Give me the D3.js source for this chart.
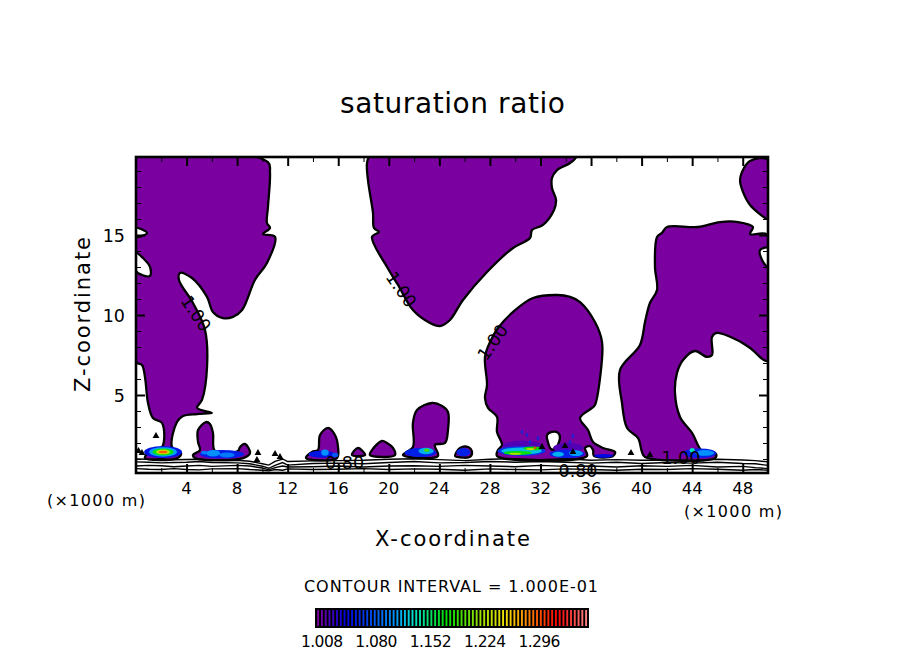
<![CDATA[<!DOCTYPE html>
<html><head><meta charset="utf-8">
<style>html,body{margin:0;padding:0;background:#fff;overflow:hidden}svg{display:block}text{font-family:"DejaVu Sans",sans-serif;fill:#000}</style>
<script src="https://cdn.jsdelivr.net/npm/d3@7/dist/d3.min.js"></script>
</head><body><script>
// ---- data, in km ----
const xMajor = [4,8,12,16,20,24,28,32,36,40,44,48];
const xMinor = [2,6,10,14,18,22,26,30,34,38,42,46];
const zMajor = [5,10,15];
const zMinor = [1,2,3,4,6,7,8,9,11,12,13,14,16,17,18,19];
const levelLabels = [1.008,1.080,1.152,1.224,1.296];
const colorLevels = d3.range(0,72).map(i => 1 + i*0.005);
const colorStops = [1.0,1.036,1.1,1.126,1.17,1.216,1.248,1.28,1.317,1.36];
const colorValues = ["#7b00a0","#0000e0","#0090ff","#00e0d0","#00e000","#a0e000","#f0e000","#ff8000","#ff0000","#ff9090"];

const regionLeft = [[0,19.9],[10.44,19.55],[10.6,18.9],[10.44,16.75],[10.36,15.75],[10.6,15.44],[10.05,15.06],[11,14.88],[10.36,13.25],[9.41,12.19],[8.39,10.31],[7.67,9.88],[6.88,9.81],[6.09,10.19],[5.62,11.13],[4.43,12.31],[3.48,12.63],[3.4,12.19],[4.51,10.75],[5.46,9.06],[5.62,6.75],[5.22,4.69],[4.83,4.19],[6.01,3.88],[4.83,3.81],[3.72,3.69],[3.24,3.31],[2.85,1.75],[3.56,1.38],[3.3,1.06],[0.71,1.06],[1.1,1.5],[2.06,1.75],[2.06,3.25],[1.34,3.56],[0.95,4.5],[0.71,6.13],[0.47,6.88],[0,7.06]];
const regionHump = [[5.54,3.31],[4.91,2.81],[4.91,2.06],[5.06,1.56],[4.51,1.25],[4.67,1.06],[8.47,1.06],[9.02,1.38],[8.62,1.94],[8.23,1.75],[8.07,1.5],[6.25,1.5],[6.09,2.63],[5.85,3.19]];
const regionFifteen = [[15.19,2.94],[14.56,2.5],[14.4,1.56],[13.92,1.44],[13.45,1.06],[15.9,1.06],[15.98,1.75],[15.74,2.5]];
const regionSmall = [[17.56,1.69],[17.09,1.25],[18.12,1.25]];
const regionTwenty = [[19.46,2.13],[18.67,1.56],[18.51,1.25],[20.49,1.25],[20.33,1.69],[19.86,2.0]];
const regionTwentyThree = [[23.42,4.5],[22.23,4.06],[21.91,3.25],[21.91,1.75],[21.12,1.25],[23.89,1.19],[23.65,1.88],[24.45,2.0],[24.68,2.81],[24.68,3.94],[24.21,4.31]];
const regionTwentySix = [[25.24,1.19],[25.63,1.69],[26.27,1.75],[26.58,1.44],[26.42,1.13],[25.4,1.13]];
const regionTop = [[18.51,19.9],[18.28,19.5],[18.35,18.44],[18.75,16.38],[18.83,15.44],[19.22,15.19],[18.67,14.88],[19.86,13],[20.73,11.88],[21.91,10.31],[23.26,9.5],[24.05,9.31],[24.84,9.69],[25.87,10.94],[27.77,12.69],[29.83,14.19],[31.17,14.81],[31.33,15.31],[32.2,15.63],[33.07,16.56],[33.23,17.19],[32.91,17.94],[32.91,18.56],[33.31,19.06],[34.34,19.5],[34.81,19.9]];
const regionDome = [[33.31,11.25],[31.41,11.06],[29.83,10.19],[28.64,9.19],[28.01,8.31],[27.61,7.38],[27.77,5.63],[27.61,4.81],[27.85,4.19],[28.56,3.63],[28.56,2.69],[28.96,1.88],[28.64,1.56],[28.56,1.19],[35.68,1.19],[35.52,1.69],[35.92,1.81],[36.16,1.56],[36.23,1.19],[37.74,1.19],[37.9,1.44],[36.95,1.69],[36.16,2.06],[35.76,2.81],[35.13,3.56],[36.08,4.19],[36.31,4.38],[36.71,6.06],[36.87,8.31],[36.31,9.56],[35.13,10.81],[34.34,11.13]];
const regionRight = [[50,15],[48.58,15.06],[48.81,15.5],[47.63,15.81],[46.2,15.81],[44.46,15.5],[42.01,15.5],[41.61,15.13],[41.22,14.88],[41.06,13],[41.22,11.56],[40.66,10.75],[40.27,9.56],[39.87,8.13],[38.29,6.56],[38.45,4.5],[38.85,2.94],[39.72,2.31],[40.03,1.44],[40.27,1.13],[45.81,1.06],[45.89,1.31],[45.41,1.5],[44.78,1.5],[43.99,2.63],[43.04,3.63],[42.64,5.13],[42.8,6.38],[43.28,7.19],[44.22,7.75],[45.17,7.38],[45.57,7.5],[45.57,8.63],[45.96,8.88],[47.55,8.44],[48.58,7.94],[50,7.13]];
const regionCorner = [[50,19.7],[48.58,19.63],[48.1,19.19],[47.79,18.44],[48.02,17.69],[48.58,16.88],[49.92,16],[50,16]];
const regions = [regionLeft,regionHump,regionFifteen,regionSmall,regionTwenty,regionTwentyThree,regionTwentySix,regionTop,regionDome,regionRight,regionCorner];

const holeLeftA = [[0,15.44],[0.87,15.13],[0,14.88]];
const holeLeftB = [[0,13.88],[0.55,13.56],[1.11,13],[1.11,12.44],[0.47,12.5],[0,12.75]];
const holeDome = [[32.91,2.69],[33.39,2.63],[33.54,2.31],[33.15,1.63],[32.83,1.63],[32.59,2.06],[32.52,2.5]];
const holeRight = [[50,14.19],[49.37,14.06],[49.53,13.44],[50,13]];
const holes = [holeLeftA,holeLeftB,holeDome,holeRight];

// [x, z, half width, half height, value]
const hotspots = [
 [30.6,1.8,1.6,0.35,1.012],[34.2,1.7,1.2,0.3,1.012],
 [2.14,1.44,1.5,0.38,1.045],[2.14,1.44,1.1,0.30,1.105],[2.14,1.44,0.85,0.22,1.165],[2.14,1.44,0.55,0.15,1.23],[2.14,1.44,0.35,0.08,1.29],
 [6.8,1.3,1.75,0.26,1.05],[6.1,1.36,0.55,0.2,1.1],[7.2,1.25,0.6,0.15,1.09],[5.4,1.4,0.25,0.12,1.09],
 [14.7,1.3,1.05,0.22,1.045],[14.95,1.4,0.3,0.2,1.1],[15.75,1.25,0.25,0.14,1.075],
 [22.5,1.4,1.25,0.28,1.05],[22.95,1.5,0.6,0.2,1.11],[23.0,1.55,0.22,0.1,1.19],
 [25.9,1.42,0.55,0.25,1.05],
 [30.5,1.5,1.9,0.3,1.06],[30.5,1.5,1.6,0.22,1.115],[30.2,1.38,1.1,0.12,1.17],[31.4,1.66,0.75,0.12,1.17],[30.0,1.33,0.5,0.06,1.225],[31.2,1.62,0.35,0.07,1.225],[31.57,1.7,0.12,0.07,1.3],
 [34.1,1.32,1.4,0.26,1.05],[33.4,1.3,0.45,0.16,1.11],[34.8,1.36,0.55,0.18,1.105],
 [37,1.2,0.75,0.12,1.04],
 [44.6,1.36,1.3,0.3,1.05],[45,1.38,0.75,0.18,1.1],[44,1.55,0.2,0.14,1.13]
];
const speckBlue = [[30.54,2.69],[30.93,2.5],[31.17,2.06],[34.34,2.06],[34.57,2.44],[31.8,2.3]];
const speckBlack = [[1.58,2.44],[0.47,1.38],[9.65,1.38],[11,1.31],[11.39,1.13],[9.57,0.94],[32.12,1.75],[33.94,1.81],[34.57,1.44],[39.16,1.38],[40.66,1.25],[0.2,1.5]];

const lowX = [0,1,2,3,4,5,6,8,9,10,10.5,11,11.6,12,14,16,18,20,22,24,26,28,30,32,34,36,38,40,42,44,46,48,49,50];
const lowLine1 = [1.00,0.98,1.02,0.95,0.97,0.98,0.90,0.92,0.86,0.70,0.62,0.85,1.00,0.84,0.88,0.90,0.92,0.98,1.02,0.96,0.90,0.98,1.02,0.96,1.02,0.92,0.96,0.92,0.94,0.92,0.98,0.94,0.90,0.82];
const lowLine2 = [0.82,0.80,0.76,0.78,0.80,0.84,0.78,0.76,0.70,0.55,0.42,0.60,0.78,0.62,0.72,0.74,0.70,0.78,0.84,0.76,0.78,0.84,0.80,0.84,0.80,0.74,0.80,0.72,0.78,0.74,0.80,0.72,0.70,0.60];
const lowLine3 = [0.56,0.60,0.58,0.52,0.56,0.60,0.54,0.60,0.56,0.44,0.32,0.46,0.56,0.50,0.52,0.56,0.50,0.56,0.58,0.54,0.60,0.56,0.52,0.60,0.54,0.56,0.50,0.58,0.54,0.60,0.50,0.54,0.46,0.40];
const lowLine4 = [0.40,0.36,0.34,0.40,0.34,0.32,0.38,0.40,0.34,0.30,0.26,0.34,0.30,0.38,0.34,0.36,0.40,0.34,0.38,0.36,0.30,0.38,0.34,0.32,0.38,0.34,0.30,0.36,0.34,0.40,0.36,0.30,0.34,0.30];
const lowLines = [lowLine1,lowLine2,lowLine3,lowLine4];

const contourLabels = [
 ["1.00",4.75,10.1,56],["1.00",21.0,11.6,55],["1.00",28.2,8.3,-55],
 ["0.80",16.5,0.78,0],["0.80",34.97,0.25,0],["1.00",43.1,1.06,0]
];

// ---- drawing ----
const W=904,H=654, L=136,R=768,T=157,B=473;
const svg=d3.select("body").append("svg").attr("width",W).attr("height",H);
const x=d3.scaleLinear().domain([0,50]).range([L,R]);
const y=d3.scaleLinear().domain([0.125,19.875]).range([B,T]);
const color=d3.scaleLinear().domain(colorStops).range(colorValues);
const path=d3.line().x(d=>x(d[0])).y(d=>y(d[1])).curve(d3.curveCatmullRomClosed.alpha(0.5));
const open=d3.line().x((d,i)=>x(lowX[i])).y(d=>y(d));

svg.append("defs").append("clipPath").attr("id","plot").append("rect")
  .attr("x",L).attr("y",T).attr("width",R-L).attr("height",B-T);
const g=svg.append("g").attr("clip-path","url(#plot)");

g.selectAll(".region").data(regions).join("path").attr("class","region")
  .attr("d",path).attr("fill",color(1)).attr("stroke","#000").attr("stroke-width",2.3).attr("stroke-linejoin","round");
g.selectAll(".hole").data(holes).join("path").attr("class","hole")
  .attr("d",path).attr("fill","#fff").attr("stroke","#000").attr("stroke-width",2.3);
g.selectAll(".hot").data(hotspots).join("ellipse").attr("class","hot")
  .attr("cx",d=>x(d[0])).attr("cy",d=>y(d[1]))
  .attr("rx",d=>x(d[2])-x(0)).attr("ry",d=>y(0)-y(d[3]))
  .attr("fill",d=>color(d[4]));
g.selectAll(".sb").data(speckBlue).join("path").attr("class","sb")
  .attr("d",d3.symbol(d3.symbolDiamond,9)).attr("transform",d=>`translate(${x(d[0])},${y(d[1])})`).attr("fill","#2020d0");
g.selectAll(".sk").data(speckBlack).join("path").attr("class","sk")
  .attr("d",d3.symbol(d3.symbolTriangle,20)).attr("transform",d=>`translate(${x(d[0])},${y(d[1])})`).attr("fill","#000");
g.selectAll(".low").data(lowLines).join("path").attr("class","low")
  .attr("d",open).attr("fill","none").attr("stroke","#000").attr("stroke-width",1.4);

svg.selectAll(".clab").data(contourLabels).join("text").attr("class","clab")
  .attr("transform",d=>`translate(${x(d[1])},${y(d[2])}) rotate(${d[3]})`)
  .attr("text-anchor","middle").attr("dy","0.36em").attr("font-size",17.5).text(d=>d[0]);

// axes: ticks point inward on all four sides
function ax(gen,tx,ty,vals,size,sw){
  const a=svg.append("g").attr("transform",`translate(${tx},${ty})`)
    .call(gen.tickValues(vals).tickSize(-size).tickFormat(""));
  a.select(".domain").remove();
  a.selectAll("text").remove();
  a.selectAll("line").attr("stroke","#000").attr("stroke-width",sw);
  return a;
}
ax(d3.axisBottom(x),0,B,xMajor,9,2); ax(d3.axisBottom(x),0,B,xMinor,5,1);
ax(d3.axisTop(x),0,T,xMajor,9,2);    ax(d3.axisTop(x),0,T,xMinor,5,1);
ax(d3.axisLeft(y),L,0,zMajor,9,2);   ax(d3.axisLeft(y),L,0,zMinor,5,1);
ax(d3.axisRight(y),R,0,zMajor,9,2);  ax(d3.axisRight(y),R,0,zMinor,5,1);
svg.append("rect").attr("x",L).attr("y",T).attr("width",R-L).attr("height",B-T)
  .attr("fill","none").attr("stroke","#000").attr("stroke-width",2.6);

function label(t,px,py,size,len,opts={}){
  const e=svg.append("text").attr("x",px).attr("y",py).attr("font-size",size).attr("text-anchor",opts.anchor||"middle").text(t);
  if(len) e.attr("textLength",len).attr("lengthAdjust","spacing");
  if(opts.rot) e.attr("transform",`rotate(${opts.rot} ${px} ${py})`);
}
xMajor.forEach(v=>label(v,x(v),494,16.5));
zMajor.forEach(v=>svg.append("text").attr("x",125).attr("y",y(v)+6.5).attr("font-size",17.5).attr("text-anchor","end").text(v));
label("saturation ratio",452.5,113,28,225);
label("X-coordinate",452.5,546,21,155);
label("Z-coordinate",90,314.5,21,155,{rot:-90});
label("(×1000 m)",96,506,16,98);
label("(×1000 m)",733,517,16,98);
label("CONTOUR INTERVAL = 1.000E-01",451,592,16,294);

// colour bar
const barX=d3.scaleLinear().domain([0.9987,1.3617]).range([315,589]);
svg.append("rect").attr("x",315).attr("y",608).attr("width",274).attr("height",20).attr("fill","#000");
svg.selectAll(".bar").data(colorLevels).join("rect").attr("class","bar")
  .attr("x",d=>barX(d)+1.2).attr("y",610).attr("width",1.9).attr("height",16).attr("fill",d=>color(d));
levelLabels.forEach(v=>label(v.toFixed(3),barX(v),647,15.5,42));
</script></body></html>]]>
